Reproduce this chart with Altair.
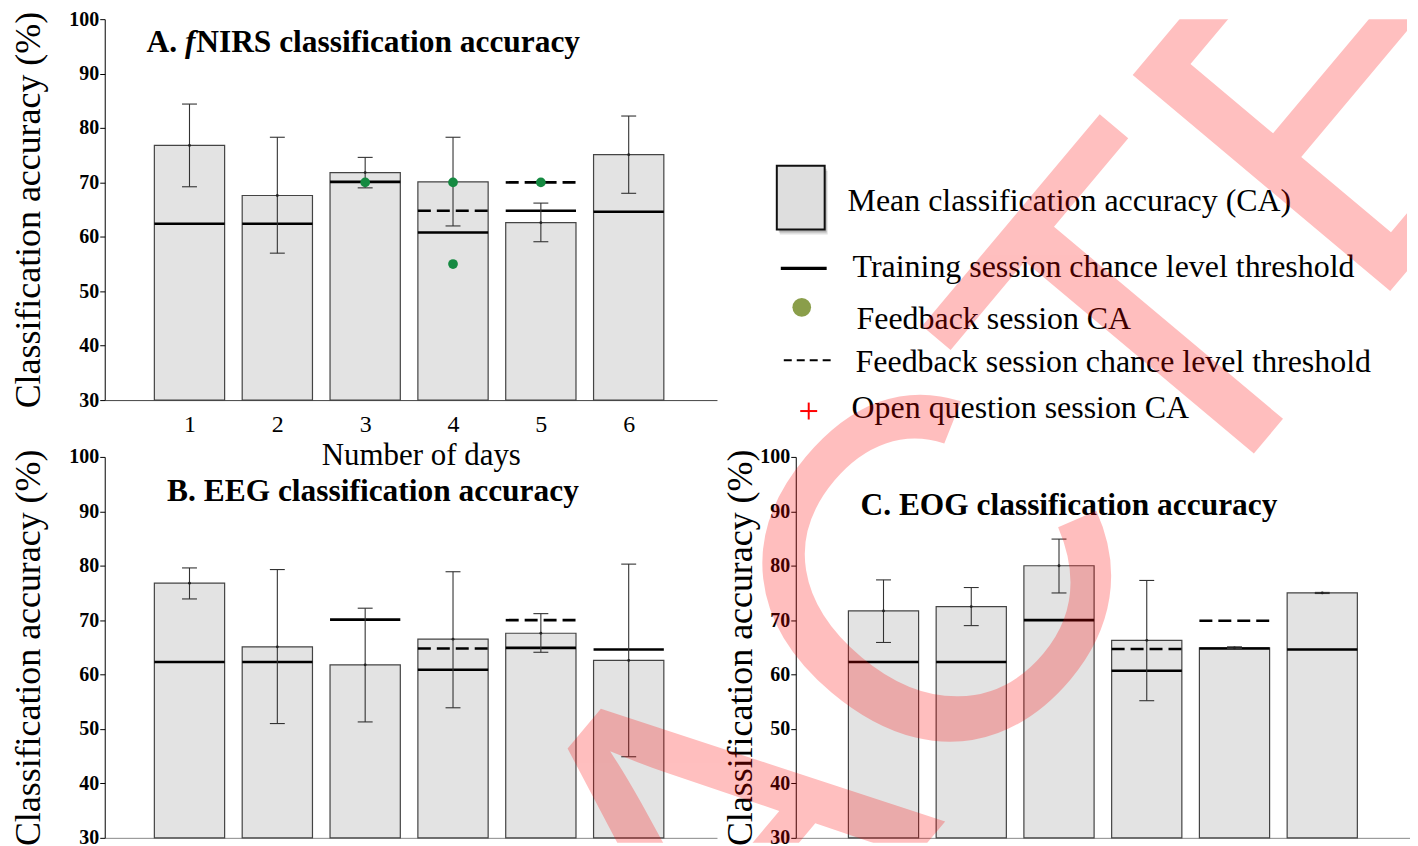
import altair as alt
import pandas as pd

SERIF = "Liberation Serif"

days = [1, 2, 3, 4, 5, 6]
y_ticks = [30, 40, 50, 60, 70, 80, 90, 100]

# Panel A: fNIRS
A_mean = [76.8, 67.6, 71.8, 70.1, 62.6, 75.1]
A_low = [69.2, 57.0, 69.0, 62.0, 59.1, 68.0]
A_high = [84.4, 78.3, 74.6, 78.3, 66.2, 82.2]
A_train = [62.4, 62.4, 70.1, 60.8, 64.8, 64.6]
A_fb_thr_days = [4, 5]
A_fb_thr = [64.8, 70.0]
A_fb_ca_days = [3, 4, 4, 5]
A_fb_ca = [70.0, 70.0, 55.0, 70.0]

# Panel B: EEG
B_mean = [76.8, 65.1, 61.8, 66.5, 67.6, 62.6]
B_low = [73.9, 51.0, 51.3, 53.9, 64.1, 44.9]
B_high = [79.6, 79.3, 72.2, 78.9, 71.2, 80.3]
B_train = [62.3, 62.3, 70.1, 60.9, 64.9, 64.6]
B_fb_thr_days = [4, 5]
B_fb_thr = [64.8, 70.0]

# Panel C: EOG
C_mean = [71.7, 72.5, 80.0, 66.3, 64.9, 75.0]
C_low = [65.9, 69.0, 75.0, 55.2, 64.8, 74.9]
C_high = [77.4, 76.0, 84.9, 77.3, 65.1, 75.1]
C_train = [62.3, 62.3, 70.0, 60.7, 64.8, 64.6]
C_fb_thr_days = [4, 5]
C_fb_thr = [64.7, 69.9]

titles = {
    "A": ["A.", "f", "NIRS classification accuracy"],
    "B": "B. EEG classification accuracy",
    "C": "C. EOG classification accuracy",
}
y_title = "Classification accuracy (%)"
x_title = "Number of days"
legend_labels = [
    "Mean classification accuracy (CA)",
    "Training session chance level threshold",
    "Feedback session CA",
    "Feedback session chance level threshold",
    "Open question session CA",
]
watermark = "RETRACTED"

one = pd.DataFrame({"k": [0]})
TFS = 31.5  # panel title font size
LFS = 32    # legend font size


def text_layer(txt, x, y, size=TFS, weight="bold", style="normal", align="left",
               font=SERIF, color="black", **kw):
    return alt.Chart(pd.DataFrame({"t": [txt]})).mark_text(
        font=font, fontSize=size, fontWeight=weight, fontStyle=style,
        align=align, baseline="alphabetic", color=color, **kw
    ).encode(x=alt.value(x), y=alt.value(y), text="t:N")


def panel(mean, low, high, train, thr_days, thr, ca_days, ca, xdom, width,
          show_x, title_pad, extra):
    df = pd.DataFrame({"day": days, "mean": mean, "lo": low, "hi": high,
                       "train": train})
    xs = alt.Scale(domain=xdom, nice=False, zero=False)
    ys = alt.Scale(domain=[30, 100], nice=False, zero=False)
    yaxis = alt.Axis(values=y_ticks, title=y_title, grid=False,
                     domainColor="black", tickColor="black", tickSize=5,
                     labelFont=SERIF, labelFontSize=20, labelFontWeight="bold",
                     labelColor="black", labelPadding=1,
                     titleFont=SERIF, titleFontSize=36,
                     titleFontWeight="normal", titleColor="black",
                     titlePadding=title_pad)
    if show_x:
        xaxis = alt.Axis(values=days, title=x_title, grid=False, ticks=False,
                         domainColor="#444", labelFont=SERIF, labelFontSize=24,
                         labelColor="black", labelPadding=13,
                         titleFont=SERIF, titleFontSize=31,
                         titleFontWeight="normal", titleColor="black",
                         titleX=317, titleY=65, titleBaseline="alphabetic")
    else:
        xaxis = alt.Axis(values=days, title=None, grid=False, ticks=False,
                         labels=False, domainColor="#888")

    def X(f):
        return alt.X(f, scale=xs, axis=xaxis)

    def Y(f):
        return alt.Y(f, scale=ys, axis=yaxis)

    base = alt.Chart(df).transform_calculate(
        x0="datum.day - 0.4", x1="datum.day + 0.4",
        c0="datum.day - 0.085", c1="datum.day + 0.085")
    bars = base.mark_rect(fill="#e3e3e3", stroke="#444", strokeWidth=1.2).encode(
        x=X("x0:Q"), x2="x1:Q", y=Y("mean:Q"), y2=alt.datum(30))
    tr = base.mark_rule(color="black", strokeWidth=2.6).encode(
        x=X("x0:Q"), x2="x1:Q", y=Y("train:Q"))
    thr_df = pd.DataFrame({"day": thr_days, "v": thr})
    dash = alt.Chart(thr_df).transform_calculate(
        x0="datum.day - 0.4", x1="datum.day + 0.4").mark_rule(
        color="black", strokeWidth=2.6, strokeDash=[13, 6]).encode(
        x=X("x0:Q"), x2="x1:Q", y=Y("v:Q"))
    err = base.mark_rule(color="#333", strokeWidth=1.1).encode(
        x=X("day:Q"), y=Y("lo:Q"), y2="hi:Q")
    cap_hi = base.mark_rule(color="#333", strokeWidth=1.1).encode(
        x=X("c0:Q"), x2="c1:Q", y=Y("hi:Q"))
    cap_lo = base.mark_rule(color="#333", strokeWidth=1.1).encode(
        x=X("c0:Q"), x2="c1:Q", y=Y("lo:Q"))
    dot = base.mark_circle(color="#222", size=8, opacity=1).encode(
        x=X("day:Q"), y=Y("mean:Q"))
    layers = [bars, tr, dash, err, cap_hi, cap_lo, dot]
    if ca_days:
        ca_df = pd.DataFrame({"day": ca_days, "v": ca})
        layers.append(alt.Chart(ca_df).mark_circle(
            color="#168a42", size=95, opacity=1).encode(
            x=X("day:Q"), y=Y("v:Q")))
    layers += extra
    return alt.layer(*layers).properties(width=width, height=382)


A = panel(A_mean, A_low, A_high, A_train, A_fb_thr_days, A_fb_thr,
          A_fb_ca_days, A_fb_ca, [0.035, 7.005], 614, True, 21,
          [text_layer(titles["A"][0], 42, 33),
           text_layer(titles["A"][1], 80.5, 33, style="italic"),
           text_layer(titles["A"][2], 91.8, 33)])
B = panel(B_mean, B_low, B_high, B_train, B_fb_thr_days, B_fb_thr,
          [], [], [0.035, 7.005], 614, False, 21,
          [text_layer(titles["B"], 269, 44, align="center")])
C = panel(C_mean, C_low, C_high, C_train, C_fb_thr_days, C_fb_thr,
          [], [], [0, 7], 616, False, 0,
          [text_layer(titles["C"], 274, 58, align="center")])

# overlay view (origin = top-left of panel A's plot): legend + watermark
ov = []
for dx, dy, op in [(3, 5, 0.12), (2, 3, 0.18)]:
    ov.append(alt.Chart(one).mark_rect(color="black", opacity=op).encode(
        x=alt.value(674 + dx), x2=alt.value(722 + dx),
        y=alt.value(147 + dy), y2=alt.value(211 + dy)))
ov.append(alt.Chart(one).mark_rect(fill="#dedede", stroke="#111",
                                   strokeWidth=2).encode(
    x=alt.value(674), x2=alt.value(722), y=alt.value(147), y2=alt.value(211)))
ov.append(text_layer(legend_labels[0], 745, 192, size=LFS, weight="normal"))
ov.append(alt.Chart(one).mark_rule(color="black", strokeWidth=3.2).encode(
    x=alt.value(678), x2=alt.value(724), y=alt.value(250)))
ov.append(text_layer(legend_labels[1], 750, 259, size=LFS, weight="normal"))
ov.append(alt.Chart(one).mark_circle(color="#8a9e4a", size=350, opacity=1).encode(
    x=alt.value(699), y=alt.value(289)))
ov.append(text_layer(legend_labels[2], 754, 311, size=LFS, weight="normal"))
ov.append(alt.Chart(one).mark_rule(color="black", strokeWidth=2,
                                   strokeDash=[8, 5]).encode(
    x=alt.value(681), x2=alt.value(729), y=alt.value(342)))
ov.append(text_layer(legend_labels[3], 753, 354, size=LFS, weight="normal"))
ov.append(alt.Chart(one).mark_rule(color="red", strokeWidth=2).encode(
    x=alt.value(697.5), x2=alt.value(714.5), y=alt.value(393)))
ov.append(alt.Chart(one).mark_rule(color="red", strokeWidth=2).encode(
    x=alt.value(706), y=alt.value(384.5), y2=alt.value(401.5)))
ov.append(text_layer(legend_labels[4], 749, 400, size=LFS, weight="normal"))
ov.append(text_layer(watermark, -224, 2076, size=490, weight="normal",
                     font="Liberation Sans", color="red", opacity=0.25,
                     angle=310, clip=True))
W = alt.layer(*ov).properties(width=1306, height=826)

inner = alt.vconcat(A, alt.hconcat(B, C, spacing=79, bounds="flush"),
                    spacing=57, bounds="flush")
chart = alt.vconcat(inner, W, spacing=-821, bounds="flush").configure_view(
    stroke=None).properties(padding={"left": 3, "top": 0, "right": 0, "bottom": 0})

chart.save("out.html", embed_options={"renderer": "svg", "actions": False})
